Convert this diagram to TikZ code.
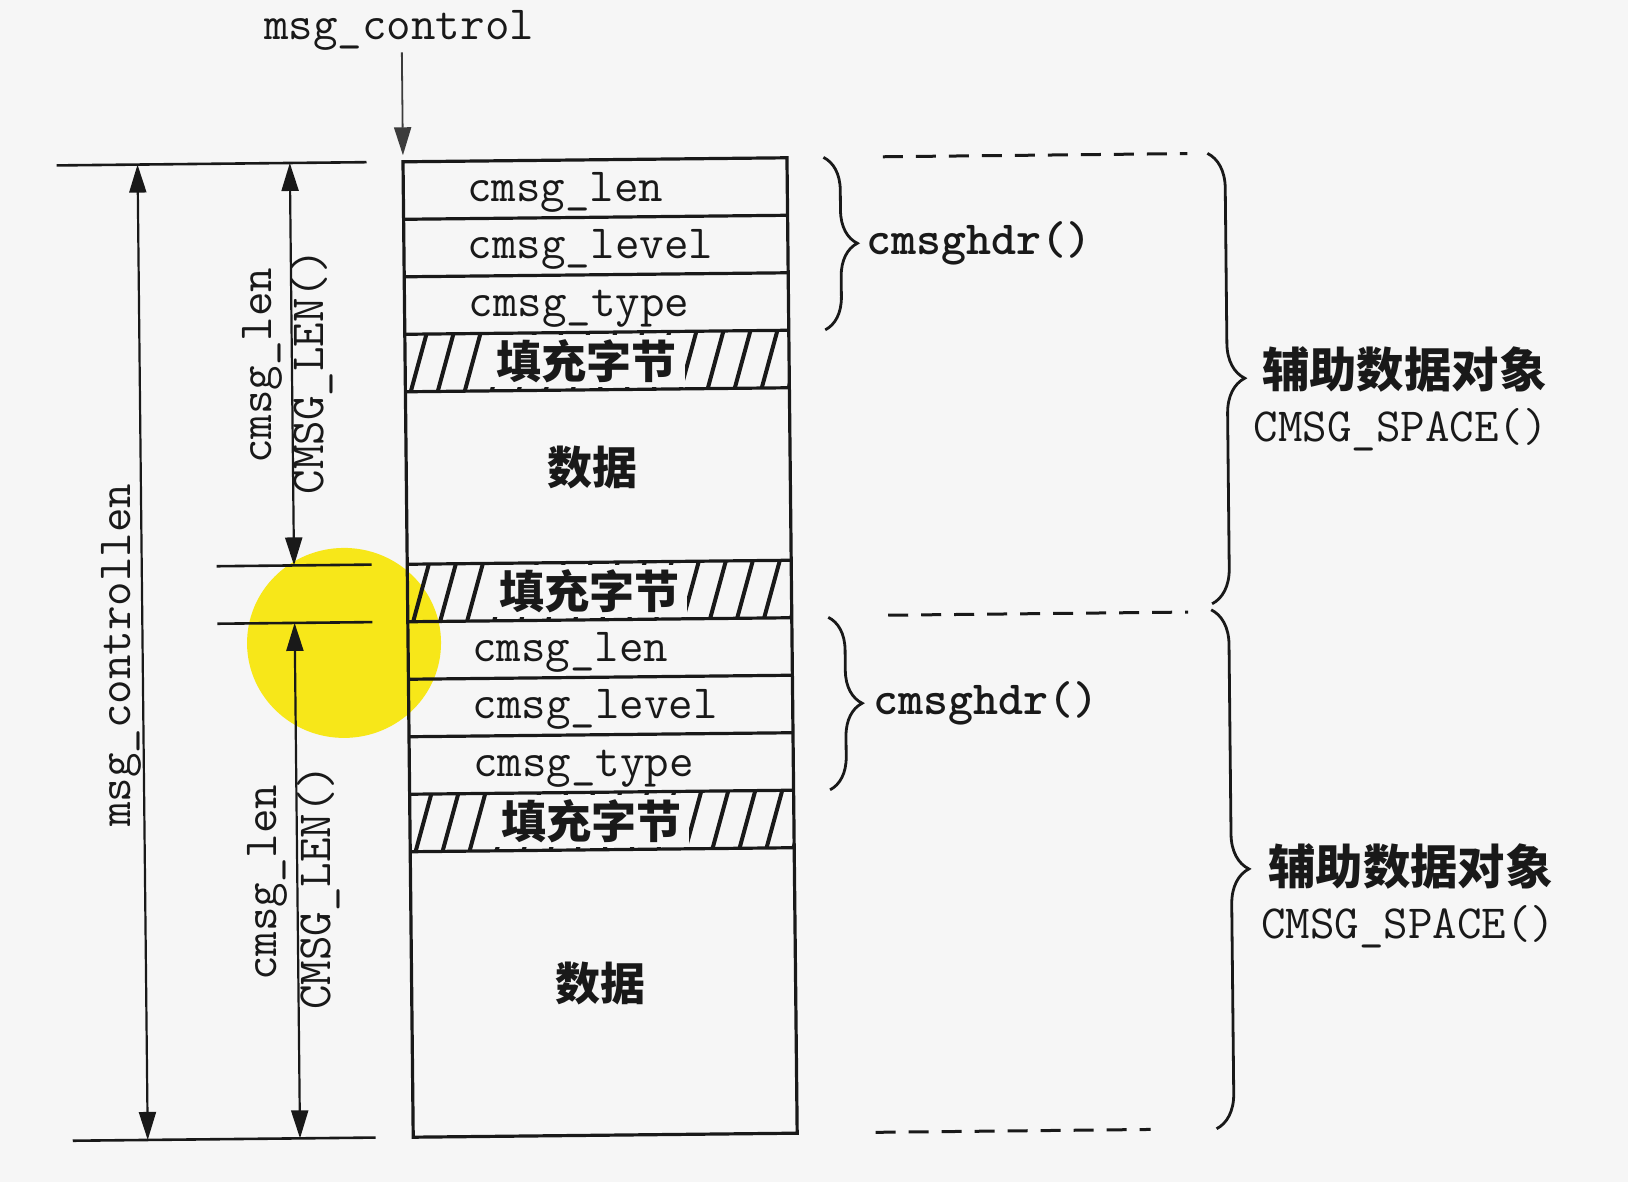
\documentclass[tikz,border=0pt]{standalone}
\usepackage{fontspec}
\usetikzlibrary{arrows.meta,decorations.pathreplacing}
\newfontfamily\cjk{Noto Sans CJK SC}
\definecolor{bg}{RGB}{246,246,246}
\definecolor{ink}{RGB}{25,25,25}
\definecolor{hl}{RGB}{247,231,25}
\tikzset{
  monotext/.style={font=\ttfamily\fontsize{23.8pt}{28pt}\selectfont, text=ink, inner sep=0pt},
  monobold/.style={font=\ttfamily\bfseries\fontsize{23.8pt}{28pt}\selectfont, text=ink, inner sep=0pt},
  cjktext/.style={font=\cjk\bfseries\fontsize{22.5pt}{26pt}\selectfont, text=ink, inner sep=0pt},
  cjkbig/.style={font=\cjk\bfseries\fontsize{23.7pt}{28pt}\selectfont, text=ink, inner sep=0pt},
  boxline/.style={draw=ink, line width=1.6pt},
  extline/.style={draw=ink, line width=1.3pt},
  dimarrow/.style={draw=ink, line width=1.1pt, {Triangle[length=14pt,width=8.5pt]}-{Triangle[length=14pt,width=8.5pt]}},
  ptr/.style={draw=ink!85, line width=0.9pt, -{Triangle[length=14pt,width=8.5pt]}},
  hatchline/.style={draw=ink, line width=2pt},
  dashline/.style={draw=ink, line width=1.5pt, dash pattern=on 10pt off 6.5pt},
  bracesmall/.style={draw=ink, line width=1.4pt, decorate, decoration={brace, amplitude=16.5pt}},
  bracebig/.style={draw=ink, line width=1.4pt, decorate, decoration={brace, amplitude=17.5pt}},
  padlabel/.style={cjktext, fill=bg, minimum width=98pt, minimum height=26pt},
}
\begin{document}
\begin{tikzpicture}[x=0.5pt, y=-0.5pt]
\fill[bg] (0,0) rectangle (1628,1182);
\useasboundingbox (0,0) rectangle (1628,1182);
\begin{scope}[rotate around={0.6:(814,591)}]
  % highlight
  \fill[hl] (343.5,638) ellipse [x radius=48.5pt, y radius=47.5pt];

  % hatching of the padding rows
  \foreach \ya/\yb in {330/387.5, 560/617.5, 790/847.5} {
    \begin{scope}
      \clip (407.5,\ya) rectangle (791.5,\yb);
      \foreach \k in {-2,...,15} {
        \draw[hatchline] ({410+27*\k},{\yb+10}) -- ({432+27*\k},{\ya-10});
      }
    \end{scope}
  }
  \node[padlabel] (pad1) at (589,358.75) {填充字节};
  \node[padlabel] (pad2) at (589,588.75) {填充字节};
  \node[padlabel] (pad3) at (589,818.75) {填充字节};

  % the buffer
  \draw[boxline] (407.5,157.5) rectangle (791.5,1133);
  \foreach \y in {215,272.5,330,387.5,560,617.5,675,732.5,790,847.5}
    \draw[boxline] (407.5,\y) -- (791.5,\y);

  \node[monotext, anchor=base west] (len1) at (471,197.5) {cmsg\_len};
  \node[monotext, anchor=base west] (lev1) at (471,255) {cmsg\_level};
  \node[monotext, anchor=base west] (typ1) at (471,312.5) {cmsg\_type};
  \node[cjktext] (data1) at (594,465) {数据};
  \node[monotext, anchor=base west] (len2) at (471,657.5) {cmsg\_len};
  \node[monotext, anchor=base west] (lev2) at (471,715) {cmsg\_level};
  \node[monotext, anchor=base west] (typ2) at (471,772.5) {cmsg\_type};
  \node[cjktext] (data2) at (596,981) {数据};

  % msg_control pointer
  \node[monotext, anchor=base] (mc) at (405,35) {msg\_control};
  \coordinate (mcs) at (407.5,48);
  \coordinate (mce) at (407.5,151);
  \draw[ptr] (mcs) -- (mce);

  % extension lines
  \coordinate (e1a) at (61,157.5);   \coordinate (e1b) at (371,157.5);
  \coordinate (e2a) at (67,1133);    \coordinate (e2b) at (370,1133);
  \coordinate (e3a) at (217,560);    \coordinate (e3b) at (372,560);
  \coordinate (e4a) at (217,617.5);  \coordinate (e4b) at (372,617.5);
  \draw[extline] (e1a) -- (e1b);
  \draw[extline] (e2a) -- (e2b);
  \draw[extline] (e3a) -- (e3b);
  \draw[extline] (e4a) -- (e4b);

  % dimension arrows
  \coordinate (d1a) at (142,157.5);   \coordinate (d1b) at (142,1133);
  \coordinate (d2a) at (294.3,157.5); \coordinate (d2b) at (294.3,560);
  \coordinate (d3a) at (294.3,617.5); \coordinate (d3b) at (294.3,1133);
  \draw[dimarrow] (d1a) -- (d1b);
  \draw[dimarrow] (d2a) -- (d2b);
  \draw[dimarrow] (d3a) -- (d3b);

  \node[monotext, rotate=90, anchor=base] (mcl) at (129.5,648) {msg\_controllen};
  \node[monotext, rotate=90, anchor=base] (cl1) at (274,360) {cmsg\_len};
  \node[monotext, rotate=90, anchor=base] (cL1) at (326,366.5) {CMSG\_LEN()};
  \node[monotext, rotate=90, anchor=base] (cl2) at (273,877) {cmsg\_len};
  \node[monotext, rotate=90, anchor=base] (cL2) at (327,882) {CMSG\_LEN()};

  % right side: braces and dashed lines
  \coordinate (s1a) at (828,157.5); \coordinate (s1b) at (828,330);
  \coordinate (s2a) at (828,617.5); \coordinate (s2b) at (828,790);
  \draw[bracesmall] (s1a) -- (s1b);
  \draw[bracesmall] (s2a) -- (s2b);
  \node[monobold, anchor=base west] (hdr1) at (869.5,255) {cmsghdr()};
  \node[monobold, anchor=base west] (hdr2) at (872,714.75) {cmsghdr()};

  \coordinate (g1a) at (887.5,157.5); \coordinate (g1b) at (1192,157.5);
  \coordinate (g2a) at (888,616);     \coordinate (g2b) at (1188,616);
  \coordinate (g3a) at (870,1133);    \coordinate (g3b) at (1145,1133);
  \draw[dashline] (g1a) -- (g1b);
  \draw[dashline] (g2a) -- (g2b);
  \draw[dashline] (g3a) -- (g3b);

  \coordinate (B1a) at (1212,157.5); \coordinate (B1b) at (1212,608);
  \coordinate (B2a) at (1211,614);   \coordinate (B2b) at (1211,1133);
  \draw[bracebig] (B1a) -- (B1b);
  \draw[bracebig] (B2a) -- (B2b);

  \node[cjkbig, anchor=west] (obj1) at (1264,374) {辅助数据对象};
  \node[monotext, anchor=base west] (sp1) at (1255,446) {CMSG\_SPACE()};
  \node[cjkbig, anchor=west] (obj2) at (1265,871) {辅助数据对象};
  \node[monotext, anchor=base west] (sp2) at (1257,943) {CMSG\_SPACE()};
\end{scope}
\end{tikzpicture}
\end{document}
